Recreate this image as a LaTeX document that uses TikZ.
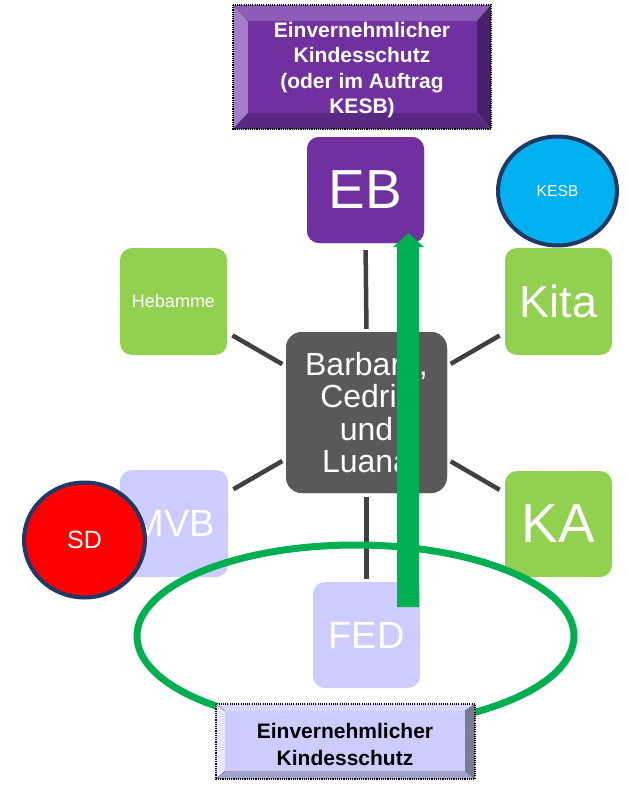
\documentclass[tikz,border=0pt]{standalone}
\usepackage{fontspec}
\setmainfont{Liberation Sans}
\usetikzlibrary{shapes.geometric}
\definecolor{purpleC}{HTML}{7030A0}
\definecolor{greenC}{HTML}{92D050}
\definecolor{lavC}{HTML}{CCCCFF}
\definecolor{centerC}{HTML}{595959}
\definecolor{lineC}{HTML}{404040}
\definecolor{navyC}{HTML}{1F3864}
\definecolor{arrowC}{HTML}{00B050}
\definecolor{cyanC}{HTML}{00B0F0}
\definecolor{redC}{HTML}{FF0000}
\definecolor{ptop}{HTML}{8D5BB8}
\definecolor{pleft}{HTML}{A47DCB}
\definecolor{pright}{HTML}{48206B}
\definecolor{pbottom}{HTML}{592883}
\definecolor{ltop}{HTML}{D6D6FF}
\definecolor{lleft}{HTML}{E6E6FF}
\definecolor{lright}{HTML}{7A7A99}
\definecolor{lbottom}{HTML}{A3A3CC}
\begin{document}
\begin{tikzpicture}[x=1pt,y=-1pt,
  box/.style={rectangle, rounded corners=12pt, inner sep=0pt, text=white, align=center},
  link/.style={draw=lineC, line width=4.5pt},
  oval/.style={ellipse, draw=navyC, line width=4pt, text=white, inner sep=0pt},
  dotborder/.style={draw=black, line width=1.4pt, dash pattern=on 1.1pt off 1.1pt},
  dotdiag/.style={draw=black!70, line width=0.6pt, dash pattern=on 0.8pt off 0.8pt},
]
\useasboundingbox (0,0) rectangle (627,787);

% nodes
\node[box, fill=purpleC, minimum width=117pt, minimum height=106pt, font=\fontsize{55}{60}\selectfont] (eb) at (365.5,190) {EB};
\node[box, fill=greenC, minimum width=107pt, minimum height=107pt, font=\fontsize{18}{20}\selectfont] (heb) at (173.5,301.5) {Hebamme};
\node[box, fill=greenC, minimum width=107pt, minimum height=107pt, font=\fontsize{45}{50}\selectfont] (kita) at (558.5,301.5) {Kita};
\node[box, fill=centerC, minimum width=161pt, minimum height=161pt, rounded corners=16pt, font=\fontsize{32}{32.5}\selectfont] (ctr) at (366.5,412.5) {Barbara,\\Cedric\\und\\Luana};
\node[box, fill=lavC, minimum width=108pt, minimum height=107pt, font=\fontsize{38}{42}\selectfont] (mvb) at (174,523.5) {MVB};
\node[box, fill=greenC, minimum width=107pt, minimum height=106pt, font=\fontsize{55}{60}\selectfont] (ka) at (558.5,524) {KA};
\node[box, fill=lavC, minimum width=107pt, minimum height=106pt, font=\fontsize{38}{42}\selectfont] (fed) at (366.5,635) {FED};

% connectors
\draw[link, shorten <=7pt, shorten >=3pt] (eb.south) -- (ctr.north);
\draw[link, shorten <=4pt, shorten >=3pt] (ctr.south) -- (fed.north);
\draw[link, shorten <=6pt, shorten >=4pt] (heb) -- (ctr);
\draw[link, shorten <=6pt, shorten >=4pt] (kita) -- (ctr);
\draw[link, shorten <=6pt, shorten >=4pt] (mvb) -- (ctr);
\draw[link, shorten <=6pt, shorten >=4pt] (ka) -- (ctr);
% redraw boxes over connector ends
\node[box, fill=purpleC, minimum width=117pt, minimum height=106pt, font=\fontsize{55}{60}\selectfont] at (eb) {EB};
\node[box, fill=centerC, minimum width=161pt, minimum height=161pt, rounded corners=16pt, font=\fontsize{32}{32.5}\selectfont] at (ctr) {Barbara,\\Cedric\\und\\Luana};

% circles
\node[oval, fill=cyanC, minimum width=119pt, minimum height=109pt, font=\fontsize{15.7}{18}\selectfont] (kesb) at (557.5,191) {KESB};
\node[oval, fill=redC, minimum width=121pt, minimum height=115pt, font=\fontsize{25}{28}\selectfont] (sd) at (84.5,540) {SD};

% green ellipse
\draw[draw=arrowC, line width=7pt] (355.5,636) ellipse [x radius=218.5pt, y radius=91pt];

% top bevel box
\fill[ptop] (233,5) -- (491,5) -- (477,21) -- (248,21) -- cycle;
\fill[pleft] (233,5) -- (248,21) -- (248,113) -- (233,129) -- cycle;
\fill[pright] (491,5) -- (491,129) -- (477,113) -- (477,21) -- cycle;
\fill[pbottom] (233,129) -- (248,113) -- (477,113) -- (491,129) -- cycle;
\fill[purpleC] (248,21) rectangle (477,113);
\draw[dotdiag] (233,5) -- (248,21) (491,5) -- (477,21) (233,129) -- (248,113) (491,129) -- (477,113);
\draw[dotborder] (233,5) rectangle (491,129);
\node[font=\bfseries\fontsize{21}{25.5}\selectfont, text=white, align=center, inner sep=0pt] (toptext) at (362,70) {Einvernehmlicher\\Kindesschutz\\(oder im Auftrag\\KESB)};

% bottom bevel box
\fill[ltop] (216,704) -- (475,704) -- (465,711) -- (225,711) -- cycle;
\fill[lleft] (216,704) -- (225,711) -- (225,771) -- (216,779) -- cycle;
\fill[lright] (475,704) -- (475,779) -- (465,771) -- (465,711) -- cycle;
\fill[lbottom] (216,779) -- (225,771) -- (465,771) -- (475,779) -- cycle;
\fill[lavC] (225,711) rectangle (465,771);
\draw[dotdiag] (216,704) -- (225,711) (475,704) -- (465,711) (216,779) -- (225,771) (475,779) -- (465,771);
\draw[dotborder] (216,704) rectangle (475,779);
\node[font=\bfseries\fontsize{21}{27}\selectfont, text=black, align=center, inner sep=0pt] (bottext) at (345,744) {Einvernehmlicher\\Kindesschutz};

% green arrow
\coordinate (arrbase) at (408,607);
\coordinate (arrtip) at (408.5,233);
\fill[arrowC] (397,607) -- (397,247) -- (393,247) -- (arrtip) -- (424,247) -- (419,247) -- (419,607) -- cycle;
\end{tikzpicture}
\end{document}
